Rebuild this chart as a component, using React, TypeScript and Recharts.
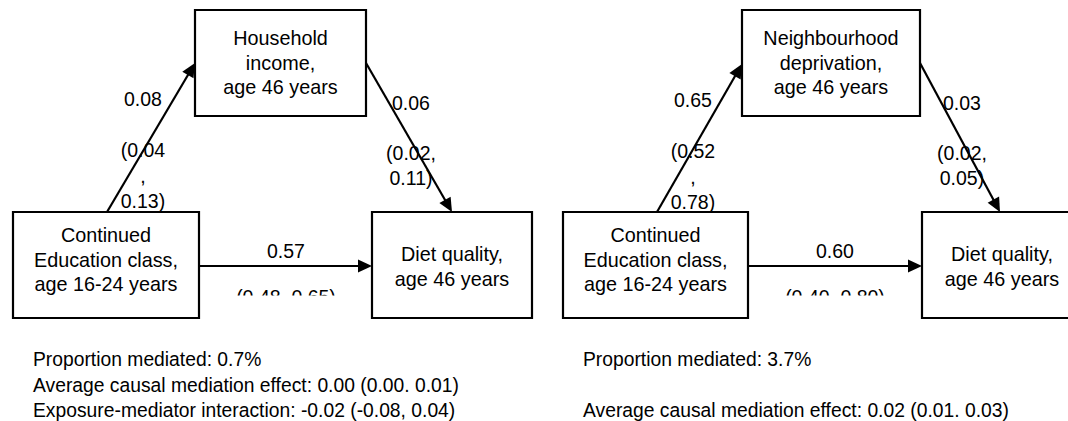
import React from 'react';
import { ScatterChart, Scatter, XAxis, YAxis, ReferenceArea, ReferenceLine } from 'recharts';

// node labels
const exposureLabel = ['Continued', 'Education class,', 'age 16-24 years'];
const outcomeLabel = ['Diet quality,', 'age 46 years'];
const mediatorLabels = [
  ['Household', 'income,', 'age 46 years'],
  ['Neighbourhood', 'deprivation,', 'age 46 years'],
];

// path estimates (household income, neighbourhood deprivation)
const pathA = [0.08, 0.65];
const pathALow = [0.04, 0.52];
const pathAHigh = [0.13, 0.78];
const pathB = [0.06, 0.03];
const pathBLow = [0.02, 0.02];
const pathBHigh = [0.11, 0.05];
const directC = [0.57, 0.6];
const directLow = [0.48, 0.4];
const directHigh = [0.65, 0.8];

// mediation summary
const propMediated = [0.7, 3.7];
const acme = [0.0, 0.02];
const acmeLow = [0.0, 0.01];
const acmeHigh = [0.01, 0.03];
const interaction: (number | null)[] = [-0.02, null];
const interactionLow: (number | null)[] = [-0.08, null];
const interactionHigh: (number | null)[] = [0.04, null];

// diagram layout, in diagram units (boxes are [x1, y1, x2, y2])
const panels = [
  {
    exposure: [13, 212, 199, 318], expText: 242,
    mediator: [195, 10, 366, 116], medText: 45,
    outcome: [372, 212, 532, 318], outText: 261,
    a: [107, 212, 195, 63], b: [366, 63, 452, 212], c: [199, 266, 372, 266],
    aText: [143, 106], bText: [411, 110], cText: [286, 258], noteX: 33,
  },
  {
    exposure: [563, 212, 748, 318], expText: 242,
    mediator: [742, 10, 920, 116], medText: 45,
    outcome: [922, 212, 1082, 318], outText: 261,
    a: [657, 212, 742, 64], b: [920, 63, 1000, 212], c: [748, 266, 922, 266],
    aText: [693, 107], bText: [962, 110], cText: [835, 258], noteX: 583,
  },
];

const FONT = '"Liberation Sans", Arial, sans-serif';
const f2 = (v: number) => v.toFixed(2);

type TextItem = {
  x: number; y: number; lines: string[]; lh: number; size: number;
  anchor: 'start' | 'middle'; clipBelow?: number;
};

const textItems: TextItem[] = [];
const boxes: number[][] = [];
const arrows: number[][] = [];

panels.forEach((p, i) => {
  boxes.push(p.exposure, p.mediator, p.outcome);
  arrows.push(p.a, p.b, p.c);
  const mid = (b: number[]) => (b[0] + b[2]) / 2;
  textItems.push({ x: mid(p.exposure), y: p.expText, lines: exposureLabel, lh: 24.5, size: 19.8, anchor: 'middle' });
  textItems.push({ x: mid(p.mediator), y: p.medText, lines: mediatorLabels[i], lh: 24.5, size: 19.8, anchor: 'middle' });
  textItems.push({ x: mid(p.outcome), y: p.outText, lines: outcomeLabel, lh: 24.5, size: 19.8, anchor: 'middle' });
  textItems.push({
    x: p.aText[0], y: p.aText[1], lh: 25.5, size: 19.5, anchor: 'middle',
    lines: [f2(pathA[i]), '', `(${f2(pathALow[i])}`, ',', `${f2(pathAHigh[i])})`],
  });
  textItems.push({
    x: p.bText[0], y: p.bText[1], lh: 25, size: 19.5, anchor: 'middle',
    lines: [f2(pathB[i]), '', `(${f2(pathBLow[i])},`, `${f2(pathBHigh[i])})`],
  });
  textItems.push({ x: p.cText[0], y: p.cText[1], lh: 25, size: 19.5, anchor: 'middle', lines: [f2(directC[i])] });
  // CI under the direct path is cut off by its text box in the original
  textItems.push({
    x: p.cText[0], y: p.cText[1] + 46, lh: 25, size: 19.5, anchor: 'middle', clipBelow: 8.5,
    lines: [`(${f2(directLow[i])}, ${f2(directHigh[i])})`],
  });
  const acmeLine = `Average causal mediation effect: ${f2(acme[i])} (${f2(acmeLow[i])}. ${f2(acmeHigh[i])})`;
  const notes = interaction[i] !== null
    ? [
        `Proportion mediated: ${propMediated[i].toFixed(1)}%`,
        acmeLine,
        `Exposure-mediator interaction: ${f2(interaction[i] as number)} (${f2(interactionLow[i] as number)}, ${f2(interactionHigh[i] as number)})`,
      ]
    : [`Proportion mediated: ${propMediated[i].toFixed(1)}%`, '', acmeLine];
  textItems.push({ x: p.noteX, y: 366, lh: 25.5, size: 19.3, anchor: 'start', lines: notes });
});

const ArrowShape = (props: any) => {
  const { x1, y1, x2, y2 } = props;
  const ang = Math.atan2(y2 - y1, x2 - x1);
  const len = 14;
  const half = 6.5;
  const bx = x2 - len * Math.cos(ang);
  const by = y2 - len * Math.sin(ang);
  const px = -Math.sin(ang) * half;
  const py = Math.cos(ang) * half;
  return (
    <g>
      <line x1={x1} y1={y1} x2={bx + Math.cos(ang)} y2={by + Math.sin(ang)} stroke="#000" strokeWidth={2.2} />
      <polygon points={`${x2},${y2} ${bx + px},${by + py} ${bx - px},${by - py}`} fill="#000" />
    </g>
  );
};

let clipId = 0;
const TextShape = (props: any) => {
  const { cx, cy, payload } = props;
  const t = payload as TextItem;
  const id = `ci-clip-${clipId++}`;
  return (
    <g>
      {t.clipBelow !== undefined && (
        <defs>
          <clipPath id={id}>
            <rect x={cx - 120} y={cy - 40} width={240} height={40 - t.clipBelow} />
          </clipPath>
        </defs>
      )}
      <text
        x={cx}
        y={cy}
        textAnchor={t.anchor}
        fontFamily={FONT}
        fontSize={t.size}
        fill="#000"
        clipPath={t.clipBelow !== undefined ? `url(#${id})` : undefined}
      >
        {t.lines.map((line, k) => (
          <tspan key={k} x={cx} y={cy + k * t.lh}>{line}</tspan>
        ))}
      </text>
    </g>
  );
};

export default function App() {
  return (
    <div style={{ position: 'absolute', left: 0, top: 0, width: 1068, height: 421, background: '#fff' }}>
      <ScatterChart width={1068} height={421} margin={{ top: 0, right: 0, bottom: 0, left: 0 }}>
        <XAxis type="number" dataKey="x" domain={[0, 1068]} allowDataOverflow hide />
        <YAxis type="number" dataKey="y" domain={[0, 421]} allowDataOverflow reversed hide />
        {boxes.map((b, k) => (
          <ReferenceArea
            key={`box-${k}`}
            x1={b[0]} y1={b[1]} x2={b[2]} y2={b[3]}
            fill="none" stroke="#000" strokeWidth={2.2}
            ifOverflow="visible"
          />
        ))}
        {arrows.map((a, k) => (
          <ReferenceLine
            key={`arrow-${k}`}
            segment={[{ x: a[0], y: a[1] }, { x: a[2], y: a[3] }]}
            shape={ArrowShape}
            ifOverflow="visible"
          />
        ))}
        <Scatter data={textItems} shape={TextShape} isAnimationActive={false} />
      </ScatterChart>
    </div>
  );
}
